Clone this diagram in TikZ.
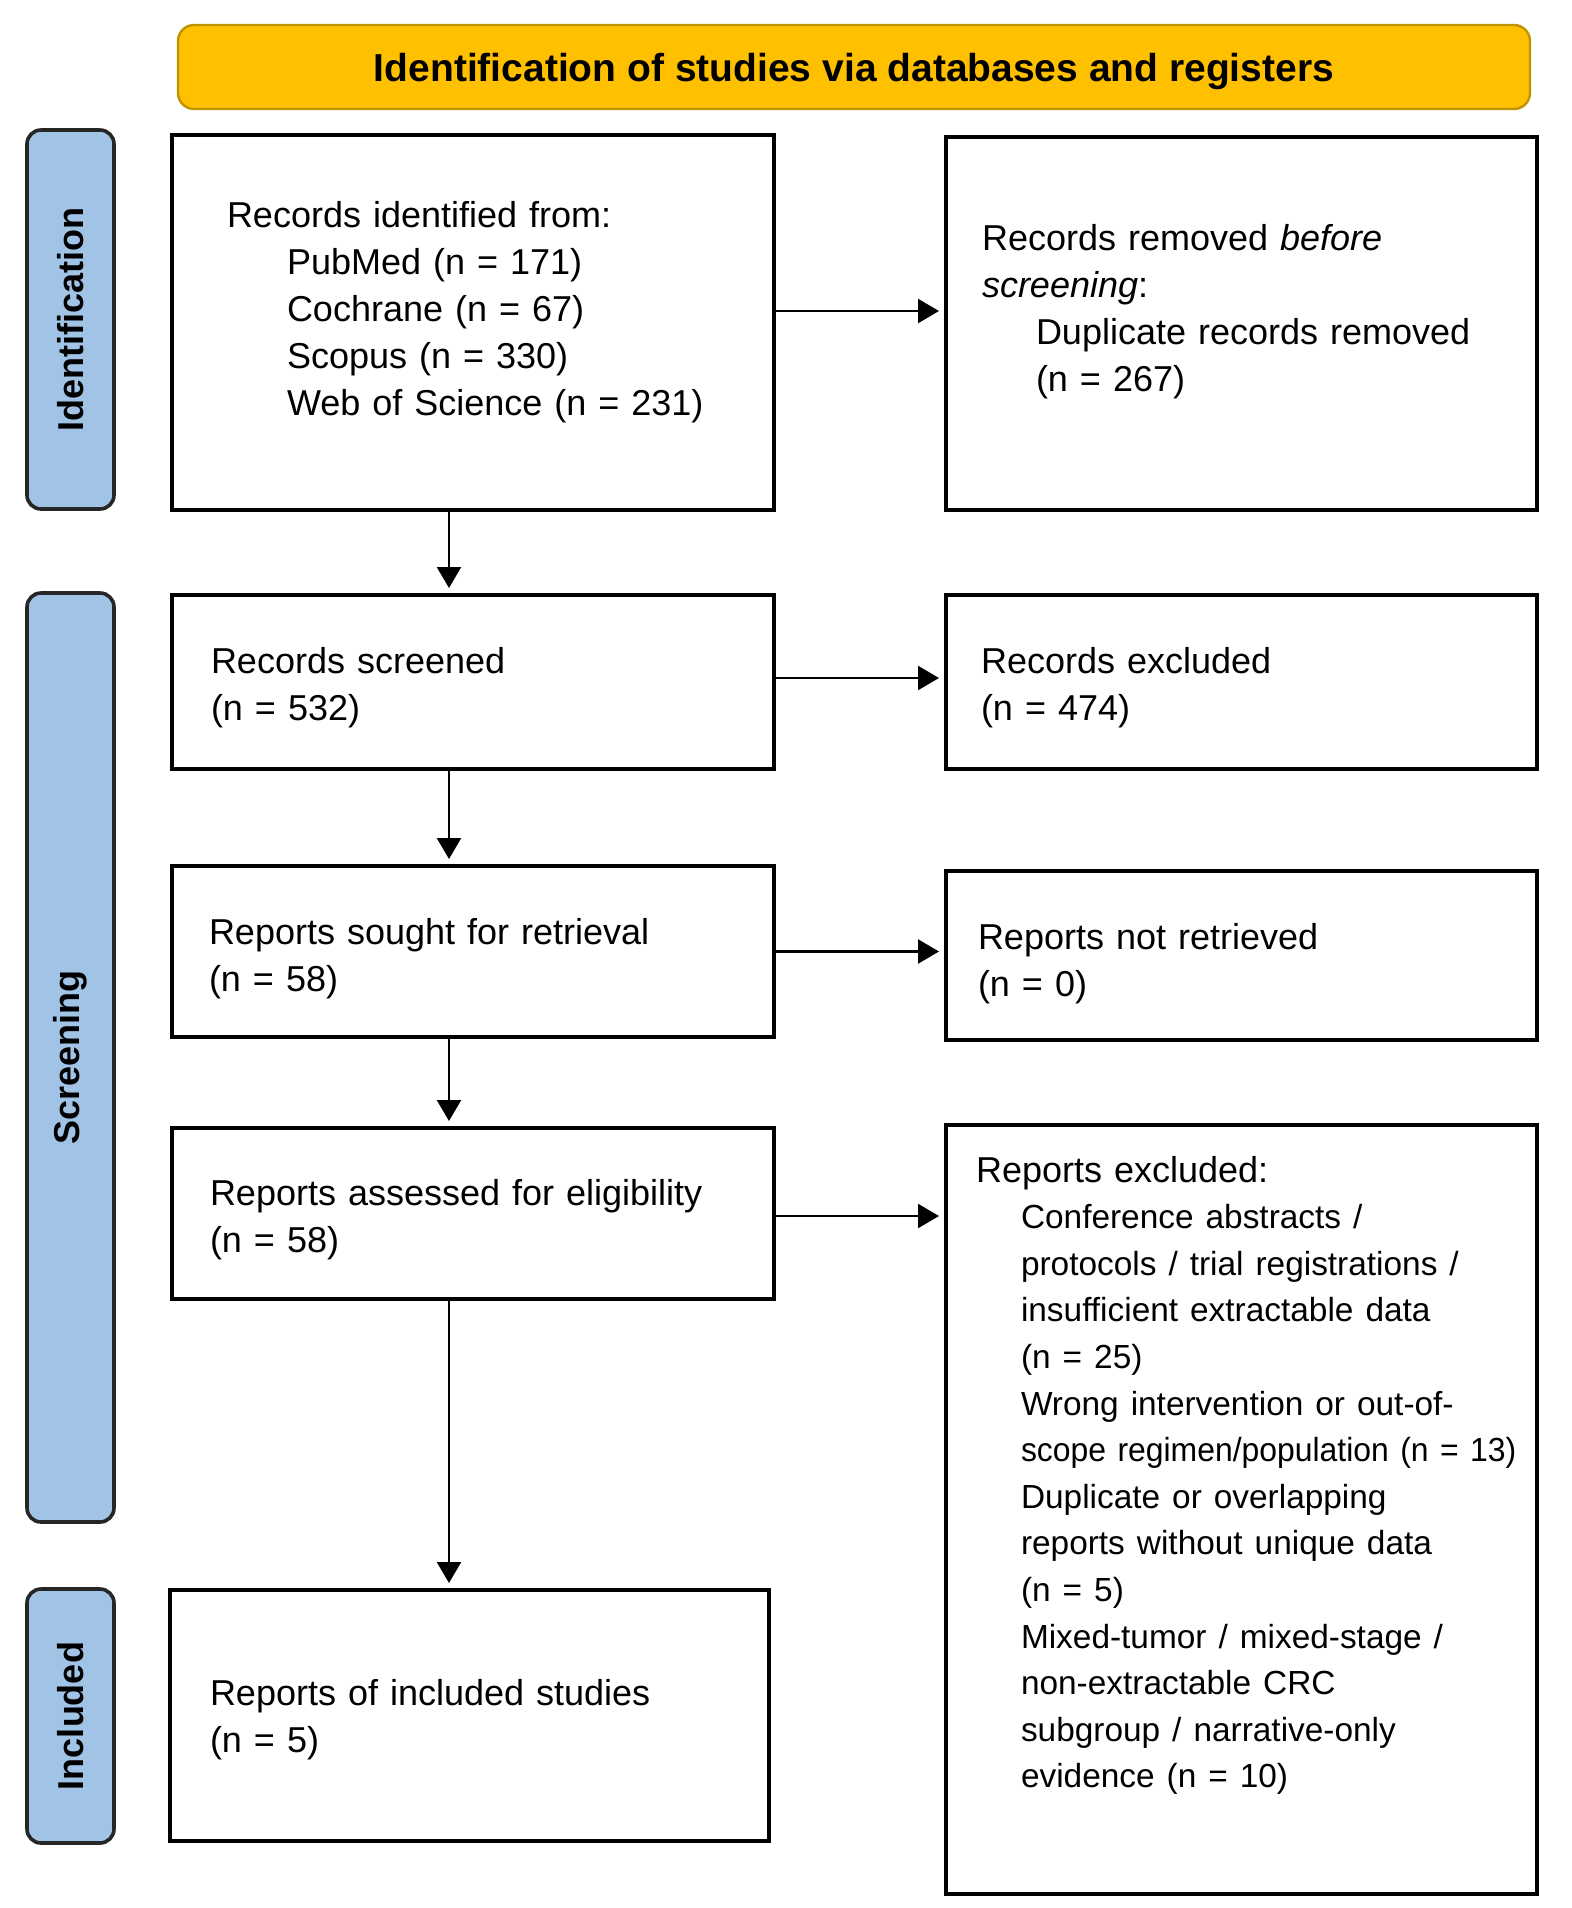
\documentclass[tikz,border=0pt]{standalone}
\usepackage{fontspec}
\setmainfont{Liberation Sans}
\usetikzlibrary{arrows.meta}
\definecolor{gold}{HTML}{FFC000}
\definecolor{goldline}{HTML}{BF9400}
\definecolor{lanefill}{HTML}{A0C3E6}

\begin{document}
\begin{tikzpicture}[x=0.5pt,y=-0.5pt]
\tikzstyle{every node}+=[inner sep=0pt, outer sep=0pt]
\tikzstyle{box}=[draw=black, line width=1.6pt, fill=white, align=left, anchor=north west, inner ysep=0pt, font=\fontsize{18pt}{23.6pt}\selectfont]
\tikzstyle{lane}=[draw=black!85, line width=1.8pt, fill=lanefill, rounded corners=7pt, minimum height=43.5pt, rotate=90, font=\bfseries\fontsize{18pt}{20pt}\selectfont]
\tikzstyle{head}=[draw=goldline, line width=1.2pt, fill=gold, rounded corners=8pt, minimum width=676pt, minimum height=42pt, text depth=0pt, font=\bfseries\fontsize{19.5pt}{22pt}\selectfont]
\tikzstyle{arr}=[-{Triangle[length=10.5pt,width=12pt]}, line width=1.2pt, shorten >=3.5pt]
\useasboundingbox (0,0) rectangle (1571,1908);

\node[head] (head) at (854,67) {Identification of studies via databases and registers};

\node[lane, minimum width=189.5pt] (idlane) at (70.5,319.5) {Identification};
\node[lane, minimum width=464.5pt] (scrlane) at (70.5,1057.5) {Screening};
\node[lane, minimum width=127pt] (inclane) at (70.5,1716) {Included};

\node[box, inner xsep=27.5pt, text width=246pt, text height=46pt, text depth=141.5pt] (ident) at (172,135)
  {Records identified from:\\
   \hspace*{30pt}PubMed (n = 171)\\
   \hspace*{30pt}Cochrane (n = 67)\\
   \hspace*{30pt}Scopus (n = 330)\\
   \hspace*{30pt}Web of Science (n = 231)};
\node[box, inner xsep=18pt, text width=259.5pt, text height=56.5pt, text depth=130pt] (removed) at (946,137)
  {Records removed \textit{before}\\
   \textit{screening}:\\
   \hspace*{27pt}Duplicate records removed\\
   \hspace*{27pt}(n = 267)};

\node[box, inner xsep=19.5pt, text width=262pt, text height=39pt, text depth=48pt] (screened) at (172,595)
  {Records screened\\(n = 532)};
\node[box, inner xsep=17.5pt, text width=260.5pt, text height=39pt, text depth=48pt] (excluded) at (946,595)
  {Records excluded\\(n = 474)};

\node[box, inner xsep=18.5pt, text width=264pt, text height=39pt, text depth=46.5pt] (sought) at (172,866)
  {Reports sought for retrieval\\(n = 58)};
\node[box, inner xsep=16pt, text width=263.5pt, text height=39pt, text depth=45.5pt] (notret) at (946,871)
  {Reports not retrieved\\(n = 0)};

\node[box, inner xsep=19pt, text width=263pt, text height=38.5pt, text depth=47pt] (assessed) at (172,1128)
  {Reports assessed for eligibility\\(n = 58)};
\node[box, inner xsep=15pt, text width=265.5pt, text height=28.5pt, text depth=356pt] (repexcl) at (946,1125)
  {Reports excluded:\\
   {\fontsize{16.7pt}{23.3pt}\selectfont
   \hspace*{22.5pt}Conference abstracts /\\
   \hspace*{22.5pt}protocols / trial registrations /\\
   \hspace*{22.5pt}insufficient extractable data\\
   \hspace*{22.5pt}(n = 25)\\
   \hspace*{22.5pt}Wrong intervention or out-of-\\
   \hspace*{22.5pt}\scalebox{0.955}[1]{scope regimen/population (n = 13)}\\
   \hspace*{22.5pt}Duplicate or overlapping\\
   \hspace*{22.5pt}reports without unique data\\
   \hspace*{22.5pt}(n = 5)\\
   \hspace*{22.5pt}Mixed-tumor / mixed-stage /\\
   \hspace*{22.5pt}non-extractable CRC\\
   \hspace*{22.5pt}subgroup / narrative-only\\
   \hspace*{22.5pt}evidence (n = 10)\par}};

\node[box, inner xsep=20pt, text width=259.5pt, text height=57.5pt, text depth=68pt] (included) at (170,1590)
  {Reports of included studies\\(n = 5)};

\coordinate (spine) at (449,0);
\draw[arr] (ident.south -| spine) -- (screened.north -| spine);
\draw[arr] (screened.south -| spine) -- (sought.north -| spine);
\draw[arr] (sought.south -| spine) -- (assessed.north -| spine);
\draw[arr] (assessed.south -| spine) -- (included.north -| spine);

\draw[arr] ([yshift=5.75pt]ident.east) -- ([yshift=5.75pt]ident.east -| removed.west);
\draw[arr] ([yshift=2pt]screened.east) -- ([yshift=2pt]screened.east -| excluded.west);
\draw[arr] (sought.east) -- (sought.east -| notret.west);
\draw[arr] ([yshift=-1.25pt]assessed.east) -- ([yshift=-1.25pt]assessed.east -| repexcl.west);
\end{tikzpicture}
\end{document}
